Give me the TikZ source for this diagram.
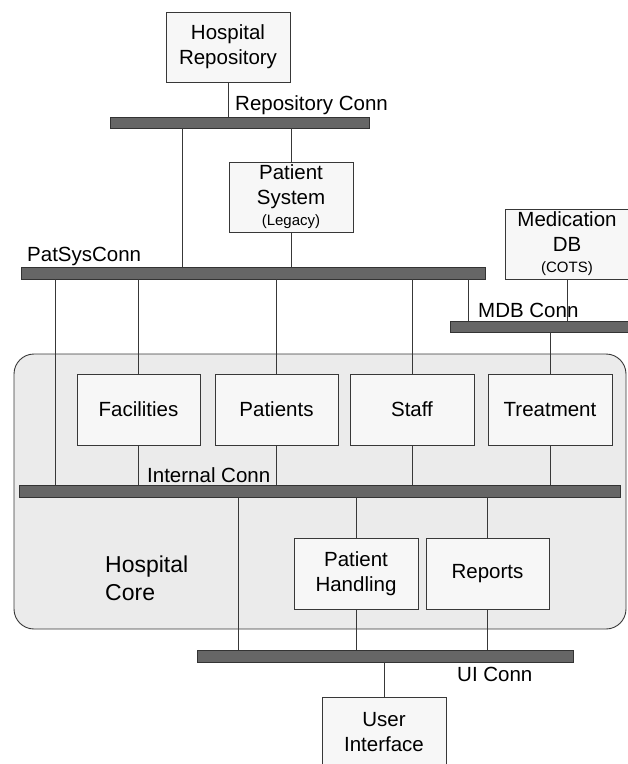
\documentclass[tikz,border=0pt]{standalone}
\usepackage{fontspec}
\setmainfont{Liberation Sans}
\newcommand\normalfs{\fontsize{20.5}{25}\selectfont}
\newcommand\smallfs{\fontsize{15}{18}\selectfont}
\newcommand\bigfs{\fontsize{23}{28}\selectfont}
\definecolor{boxfill}{gray}{0.97}
\definecolor{boxline}{gray}{0.22}
\definecolor{busfill}{gray}{0.40}
\definecolor{busline}{gray}{0.20}
\definecolor{corefill}{gray}{0.92}
\definecolor{wireline}{gray}{0.22}
\tikzset{
  box/.style={draw=boxline, fill=boxfill, minimum width=124pt, minimum height=71pt,
    inner sep=0pt, outer sep=0pt, align=center, font=\normalfs, line width=0.9pt},
  bus/.style={draw=busline, fill=busfill, inner sep=0pt, outer sep=0pt, line width=0.9pt},
  wire/.style={draw=wireline, line width=0.9pt},
  lbl/.style={inner sep=0pt, anchor=base west, font=\normalfs},
  core/.style={draw=boxline, fill=corefill, rounded corners=20pt, inner sep=0pt, outer sep=0pt, line width=0.9pt}
}
\begin{document}
\begin{tikzpicture}[x=1pt,y=-1pt]
\clip (0,0) rectangle (628,764);
% container
\node[core, minimum width=612pt, minimum height=275pt] (core) at (320,491.5) {};
% boxes
\node[box, minimum height=70pt] (hr) at (228,47) {Hospital\\Repository};
\node[box, minimum height=70pt] (ps) at (291,197) {Patient\\System\\[-4pt]{\smallfs (Legacy)}};
\node[box, minimum height=70pt] (mdb) at (567,244) {Medication\\DB\\[-4pt]{\smallfs (COTS)}};
\node[box, minimum width=123pt] (fac) at (138.5,409.5) {Facilities};
\node[box, minimum width=123pt] (pat) at (276.5,409.5) {Patients};
\node[box] (staff) at (412,409.5) {Staff};
\node[box] (treat) at (550,409.5) {Treatment};
\node[box] (ph) at (356,573.5) {Patient\\Handling};
\node[box, minimum width=123pt] (reports) at (487.5,573.5) {Reports};
\node[box, minimum height=70pt] (ui) at (384,732) {User\\Interface};
% buses
\node[bus, minimum width=259pt, minimum height=11pt] (rep) at (239.5,122.5) {};
\node[bus, minimum width=464pt, minimum height=12pt] (psc) at (253,273) {};
\node[bus, minimum width=182pt, minimum height=11pt] (mdbc) at (541,326.5) {};
\node[bus, minimum width=601pt, minimum height=12pt] (ic) at (319.5,491) {};
\node[bus, minimum width=376pt, minimum height=12pt] (uic) at (385,656) {};
% x positions of through wires
\coordinate (xa) at (182,0);
\coordinate (xb) at (55,0);
\coordinate (xc) at (468,0);
\coordinate (xd) at (238,0);
% wires
\draw[wire] (hr.south) -- (hr.south |- rep.north);
\draw[wire] (xa |- rep.south) -- (xa |- psc.north);
\draw[wire] (ps.north |- rep.south) -- (ps.north);
\draw[wire] (ps.south) -- (ps.south |- psc.north);
\draw[wire] (xb |- psc.south) -- (xb |- ic.north);
\draw[wire] (fac.north |- psc.south) -- (fac.north);
\draw[wire] (fac.south) -- (fac.south |- ic.north);
\draw[wire] (pat.north |- psc.south) -- (pat.north);
\draw[wire] (pat.south) -- (pat.south |- ic.north);
\draw[wire] (staff.north |- psc.south) -- (staff.north);
\draw[wire] (staff.south) -- (staff.south |- ic.north);
\draw[wire] (xc |- psc.south) -- (xc |- mdbc.north);
\draw[wire] (mdb.south) -- (mdb.south |- mdbc.north);
\draw[wire] (treat.north |- mdbc.south) -- (treat.north);
\draw[wire] (treat.south) -- (treat.south |- ic.north);
\draw[wire] (xd |- ic.south) -- (xd |- uic.north);
\draw[wire] (ph.north |- ic.south) -- (ph.north);
\draw[wire] (ph.south) -- (ph.south |- uic.north);
\draw[wire] (reports.north |- ic.south) -- (reports.north);
\draw[wire] (reports.south) -- (reports.south |- uic.north);
\draw[wire] (ui.north |- uic.south) -- (ui.north);
% labels
\node[lbl] (lrep) at (235,110) {Repository Conn};
\node[lbl] (lpsc) at (27,261) {PatSysConn};
\node[lbl] (lmdb) at (478,317) {MDB Conn};
\node[lbl] (lic) at (147,482) {Internal Conn};
\node[lbl] (luic) at (457,681) {UI Conn};
\node[inner sep=0pt, anchor=north west, align=left, font=\bigfs] (lcore) at (105,556) {Hospital\\Core};
\end{tikzpicture}
\end{document}
